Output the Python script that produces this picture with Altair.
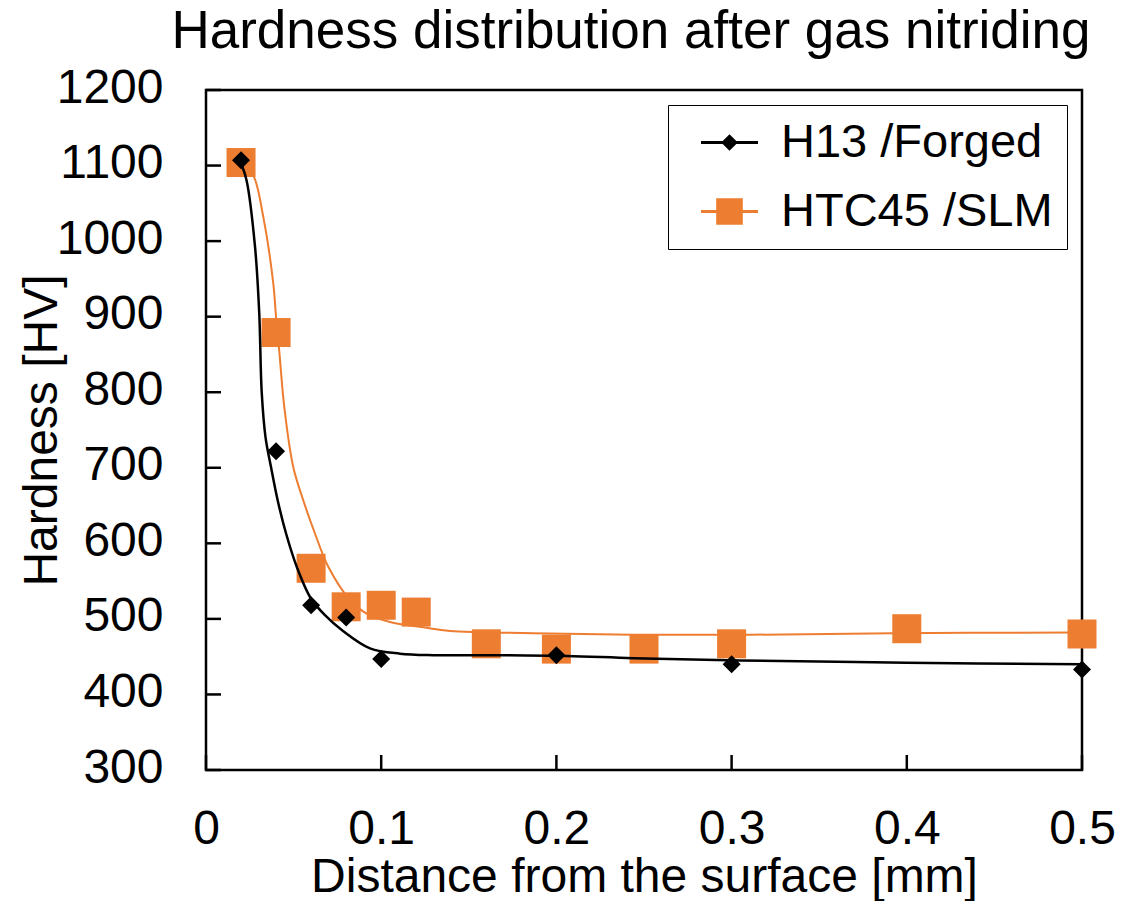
import altair as alt
import pandas as pd

FONT = "Liberation Sans"
ORANGE = "#ED7D31"

series_names = ["H13 /Forged", "HTC45 /SLM"]

# Measured points
h13_x = [0.02, 0.04, 0.06, 0.08, 0.10, 0.20, 0.30, 0.50]
h13_y = [1107, 722, 518, 502, 447, 452, 440, 433]

htc_x = [0.02, 0.04, 0.06, 0.08, 0.10, 0.12, 0.16, 0.20, 0.25, 0.30, 0.40, 0.50]
htc_y = [1104, 879, 567, 516, 518, 509, 467, 460, 460, 467, 487, 480]

# Fitted trend curves
h13_fit_x = [0.0205, 0.0232, 0.028, 0.0304, 0.0318, 0.0340, 0.0371, 0.0409, 0.0457,
             0.0518, 0.0599, 0.0679, 0.0782, 0.0936, 0.1107, 0.1296, 0.1678,
             0.2059, 0.2439, 0.3048, 0.3999, 0.4989]
h13_fit_y = [1100, 1080, 992, 904, 800, 740, 701, 657, 613,
             569, 527, 505, 484, 461, 454, 452, 452,
             451, 448, 445, 442, 440]

htc_fit_x = [0.0203, 0.027, 0.0327, 0.0384, 0.04, 0.0418, 0.0447, 0.0498, 0.0555,
             0.0622, 0.0698, 0.0822, 0.0917, 0.105, 0.124, 0.1393, 0.1866,
             0.2437, 0.3105, 0.3921, 0.4949]
htc_fit_y = [1104, 1087, 1032, 944, 899, 855, 780, 701, 657,
             613, 569, 525, 507, 496, 489, 484, 481,
             479, 479, 481, 482]

x_ticks = [0, 0.1, 0.2, 0.3, 0.4, 0.5]
y_ticks = [300, 400, 500, 600, 700, 800, 900, 1000, 1100, 1200]

legend_shapes = [
    "M-1.425,0H1.425M-0.31,0L0,-0.31L0.31,0L0,0.31Z",
    "M-1.425,0H1.425M-0.59,-0.59H0.59V0.59H-0.59Z",
]

pts_h13 = pd.DataFrame({"x": h13_x, "y": h13_y})
pts_htc = pd.DataFrame({"x": htc_x, "y": htc_y})
fit_h13 = pd.DataFrame({"x": h13_fit_x, "y": h13_fit_y})
fit_htc = pd.DataFrame({"x": htc_fit_x, "y": htc_fit_y})
leg_df = pd.DataFrame({"series": series_names, "x": [h13_x[0], htc_x[0]], "y": [h13_y[0], htc_y[0]]})
xt_df = pd.DataFrame({"x": x_ticks})
yt_df = pd.DataFrame({"y": y_ticks})

W, H = 876, 680
TICK = 15
xs = alt.Scale(domain=[0, 0.5], nice=False, zero=False)
ys = alt.Scale(domain=[300, 1200], nice=False, zero=False)

x_main = alt.X("x:Q", scale=xs, axis=alt.Axis(
    values=x_ticks, format=".1~f", title="Distance from the surface [mm]",
    ticks=False, tickSize=0, grid=False, domain=False,
    labelPadding=35, labelFontSize=48, labelFont=FONT, labelColor="black",
    titleFontSize=48, titleFont=FONT, titleColor="black", titleFontWeight="normal",
    titleBaseline="alphabetic", titleY=121, labelFlush=False,
))
y_main = alt.Y("y:Q", scale=ys, axis=alt.Axis(
    values=y_ticks, format="d", title="Hardness [HV]",
    ticks=False, tickSize=0, grid=False, domain=False,
    labelPadding=43, labelFontSize=48, labelFont=FONT, labelColor="black",
    labelOffset=-2,
    titleFontSize=48, titleFont=FONT, titleColor="black", titleFontWeight="normal",
    titleBaseline="alphabetic", titleX=-150, titleAngle=270, labelFlush=False,
))

# inward tick marks
x_tick_marks = alt.Chart(xt_df).mark_rule(color="black", strokeWidth=2.5).encode(
    x=alt.X("x:Q"), y=alt.value(H), y2=alt.value(H - TICK)
)
y_tick_marks = alt.Chart(yt_df).mark_rule(color="black", strokeWidth=2.5).encode(
    y=alt.Y("y:Q"), x=alt.value(0), x2=alt.value(TICK)
)

line_htc = alt.Chart(fit_htc).mark_line(color=ORANGE, strokeWidth=2, interpolate="catmull-rom").encode(x=x_main, y=y_main)
sq_htc = alt.Chart(pts_htc).mark_point(shape="square", filled=True, size=841, color=ORANGE, opacity=1).encode(x="x:Q", y="y:Q")
line_h13 = alt.Chart(fit_h13).mark_line(color="black", strokeWidth=2.5, interpolate="catmull-rom").encode(x="x:Q", y="y:Q")
dia_h13 = alt.Chart(pts_h13).mark_point(shape="diamond", filled=True, size=324, color="black", opacity=1).encode(x="x:Q", y="y:Q")

leg_scale_color = alt.Scale(domain=series_names, range=["black", ORANGE])
legend = alt.Legend(
    title=None, orient="top-right", offset=15, padding=14,
    strokeColor="black", fillColor="white",
    labelFont=FONT, labelFontSize=47, labelColor="black", labelLimit=400,
    symbolSize=1600, symbolStrokeWidth=3, symbolOpacity=1,
    labelOffset=28, symbolOffset=24, rowPadding=21,
)
leg_layer = alt.Chart(leg_df).mark_point(filled=True, opacity=0).encode(
    x="x:Q", y="y:Q",
    fill=alt.Fill("series:N", scale=leg_scale_color, legend=legend),
    stroke=alt.Stroke("series:N", scale=leg_scale_color, legend=legend),
    shape=alt.Shape("series:N", scale=alt.Scale(domain=series_names, range=legend_shapes), legend=legend),
)

chart = alt.layer(
    line_htc, x_tick_marks, y_tick_marks, sq_htc, line_h13, dia_h13, leg_layer
).properties(
    width=W, height=H,
    background="white",
    autosize=alt.AutoSizeParams(type="none"),
    padding={"left": 198, "top": 82, "right": 33, "bottom": 131},
    title=alt.TitleParams(
        "Hardness distribution after gas nitriding",
        font=FONT, fontSize=53, fontWeight="normal", color="black",
        anchor="middle", dx=-13, offset=5,
    ),
).configure_view(stroke="black", strokeWidth=2.5)

chart.save("out.html", embed_options={"renderer": "svg", "actions": False})
